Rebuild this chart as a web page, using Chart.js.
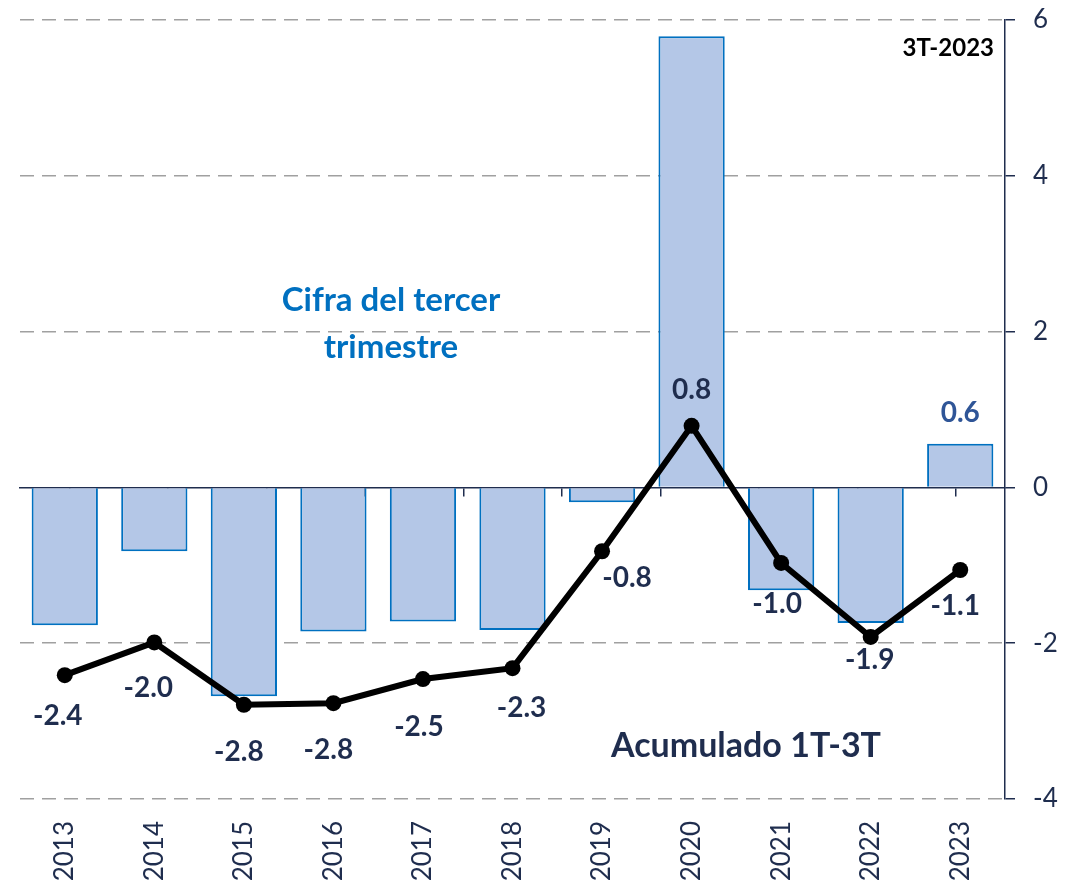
<!DOCTYPE html>
<html><head><meta charset="utf-8">
<script src="https://cdn.jsdelivr.net/npm/chart.js@4.4.1/dist/chart.umd.min.js"></script>
<style>html,body{margin:0;padding:0;background:#fff}#wrap{width:1066px;height:888px;position:relative}</style>
</head><body><div id="wrap"><canvas id="c" width="1066" height="888"></canvas></div>
<script>
const categories = ['2013','2014','2015','2016','2017','2018','2019','2020','2021','2022','2023'];
const tercerTrimestre = [-1.77,-0.82,-2.68,-1.85,-1.72,-1.83,-0.19,5.79,-1.32,-1.74,0.56];
const acumulado = [-2.41,-1.99,-2.79,-2.77,-2.46,-2.32,-0.82,0.79,-0.97,-1.92,-1.06];
const acumuladoLabels = ['-2.4','-2.0','-2.8','-2.8','-2.5','-2.3','-0.8','0.8','-1.0','-1.9','-1.1'];
const barLabelText = '0.6';
const yTicks = [-4,-2,0,2,4,6];

const NAVY = '#1f2d4e';
const labelOffsets = [[-7,41],[-6,46],[-5,47],[-5,47],[-4,48],[9,40],[25,27],[0,-36],[-4,41],[-1,23],[-5,36]];

const labelPlugin = {
  id: 'labels',
  afterDatasetsDraw(chart) {
    const ctx = chart.ctx;
    ctx.save();
    ctx.textAlign = 'center';
    ctx.textBaseline = 'middle';
    ctx.font = 'bold 28px Lato';
    ctx.fillStyle = NAVY;
    const meta = chart.getDatasetMeta(1);
    meta.data.forEach((pt, i) => {
      const o = labelOffsets[i];
      ctx.fillText(acumuladoLabels[i], pt.x + o[0], pt.y + o[1]);
    });
    const bmeta = chart.getDatasetMeta(0);
    const b = bmeta.data[10];
    ctx.fillStyle = '#2f5597';
    ctx.fillText(barLabelText, b.x, b.y - 31);
    // annotations
    ctx.font = 'bold 33px Lato';
    ctx.fillStyle = '#0070c0';
    ctx.fillText('Cifra del tercer', 391, 300);
    ctx.fillText('trimestre', 391, 347);
    ctx.fillStyle = NAVY;
    ctx.font = 'bold 34px Lato';
    ctx.fillText('Acumulado 1T-3T', 746, 746);
    ctx.font = 'bold 24px Lato';
    ctx.fillStyle = '#000';
    ctx.textAlign = 'right';
    ctx.fillText('3T-2023', 994, 48);
    ctx.restore();
  }
};

new Chart(document.getElementById('c'), {
  data: {
    labels: categories,
    datasets: [
      { type: 'bar', data: tercerTrimestre, backgroundColor: '#b4c7e7', borderColor: '#0070c0', borderWidth: 2,
        categoryPercentage: 1, barPercentage: 0.74, order: 2, xAxisID: 'x', yAxisID: 'y' },
      { type: 'line', data: acumulado, borderColor: '#000', borderWidth: 6, pointRadius: 8, pointBackgroundColor: '#000',
        pointBorderColor: '#000', pointBorderWidth: 0, tension: 0, order: 1, xAxisID: 'x', yAxisID: 'y' }
    ]
  },
  options: {
    responsive: false, animation: false,
    layout: { padding: { left: 20, top: 20, right: 0, bottom: 0 } },
    plugins: { legend: { display: false }, tooltip: { enabled: false } },
    scales: {
      x: { type: 'category', position: 'bottom',
        grid: { display: false }, border: { display: false },
        ticks: { minRotation: 90, maxRotation: 90, color: NAVY, font: { family: 'Lato', size: 26 }, padding: 14 },
        afterFit: s => { s.height = 89; } },
      x2: { type: 'category', labels: categories, position: { y: 0 },
        grid: { drawOnChartArea: false, offset: true, tickLength: 8, color: NAVY, lineWidth: 1.5 },
        border: { display: true, color: NAVY, width: 1.5 },
        ticks: { display: false } },
      y: { type: 'linear', position: 'right', min: -4, max: 6,
        afterBuildTicks: s => { s.ticks = yTicks.map(v => ({ value: v })); },
        grid: { color: c => (c.tick && c.tick.value === 0) ? 'rgba(0,0,0,0)' : '#a0a0a0', lineWidth: 1.5, tickLength: 10, tickColor: NAVY },
        border: { display: true, color: NAVY, width: 1.5, dash: [14, 8] },
        ticks: { color: NAVY, font: { family: 'Lato', size: 26 }, padding: 18 },
        afterFit: s => { s.width = 61; s.paddingTop = 0; s.paddingBottom = 0; } }
    }
  },
  plugins: [labelPlugin]
});
</script></body></html>
